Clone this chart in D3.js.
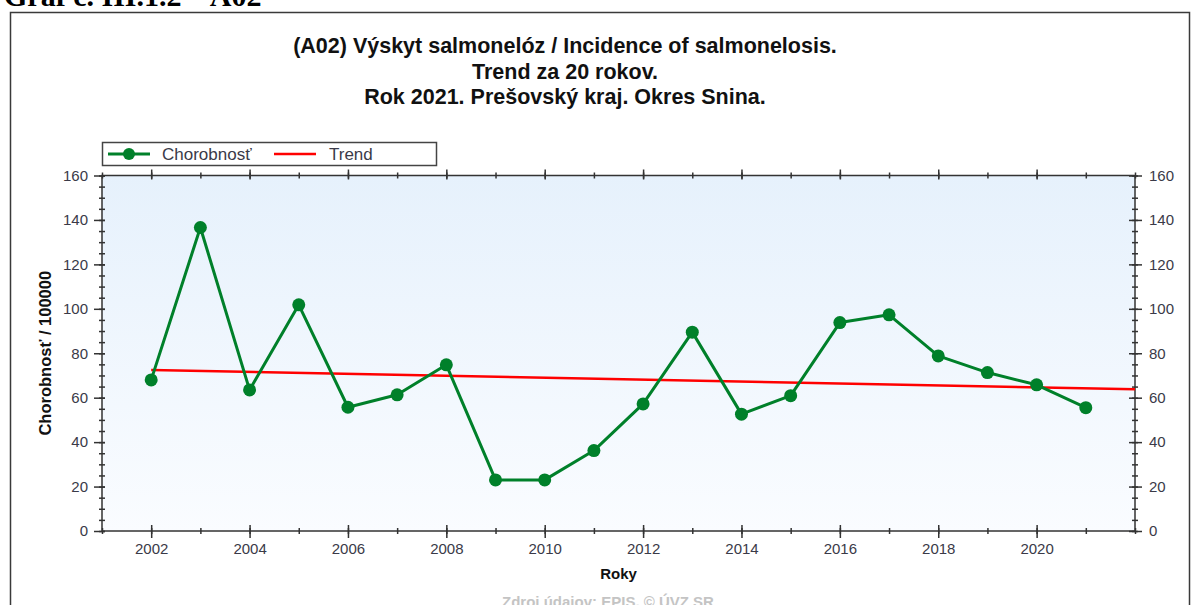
<!DOCTYPE html>
<html>
<head>
<meta charset="utf-8">
<script src="https://cdn.jsdelivr.net/npm/d3@7"></script>
<style>
  body { margin: 0; background: #fff; }
  svg { display: block; font-family: "Liberation Sans", Arial, sans-serif; }
</style>
</head>
<body>
<svg id="chart" width="1195" height="605"></svg>
<script>
// data
const years = [2002, 2003, 2004, 2005, 2006, 2007, 2008, 2009, 2010, 2011,
               2012, 2013, 2014, 2015, 2016, 2017, 2018, 2019, 2020, 2021];
const incidence = [68.0, 136.6, 63.5, 101.8, 55.7, 61.3, 74.8, 23.0, 23.0, 36.2,
                   57.2, 89.5, 52.6, 60.9, 93.8, 97.3, 78.8, 71.3, 65.8, 55.5];
const trendYears = [2002, 2022];
const trendValues = [72.5, 63.8];
const majorYears = [2002, 2004, 2006, 2008, 2010, 2012, 2014, 2016, 2018, 2020];
const minorYears = d3.range(2001, 2023);
const yMajor = [0, 20, 40, 60, 80, 100, 120, 140, 160];
const yMinor = d3.range(0, 161, 5);
const titleLines = [
  '(A02) Výskyt salmonelóz / Incidence of salmonelosis.',
  'Trend za 20 rokov.',
  'Rok 2021. Prešovský kraj. Okres Snina.'
];

const svg = d3.select('#chart');
const plotLeft = 102, plotRight = 1135, plotTop = 175.5, plotBottom = 531;

const x = d3.scaleLinear().domain([2001, 2022]).range([plotLeft, plotRight]);
const y = d3.scaleLinear().domain([0, 160]).range([plotBottom, plotTop]);

// header line of the page, mostly cut off at the top
svg.append('text')
  .attr('x', 4).attr('y', 6)
  .attr('font-family', '"Liberation Serif", serif')
  .attr('font-weight', 'bold')
  .attr('font-size', 30)
  .attr('fill', '#000')
  .text('Graf č. III.1.2 – A02');

// outer frame
svg.append('rect')
  .attr('x', 10.5).attr('y', 12.5)
  .attr('width', 1179).attr('height', 620)
  .attr('fill', '#fff')
  .attr('stroke', '#3a3a3a')
  .attr('stroke-width', 1.5);

// title
svg.append('g').selectAll('text')
  .data(titleLines)
  .join('text')
  .attr('x', 565)
  .attr('y', (d, i) => 53 + i * 25.5)
  .attr('text-anchor', 'middle')
  .attr('font-size', 21.5)
  .attr('font-weight', 'bold')
  .attr('fill', '#111')
  .text(d => d);

// plot background gradient
const grad = svg.append('defs').append('linearGradient')
  .attr('id', 'bg').attr('x1', 0).attr('y1', 0).attr('x2', 0).attr('y2', 1);
grad.append('stop').attr('offset', '0%').attr('stop-color', '#e6f1fc');
grad.append('stop').attr('offset', '100%').attr('stop-color', '#fafcff');

svg.append('rect')
  .attr('x', plotLeft).attr('y', plotTop)
  .attr('width', plotRight - plotLeft).attr('height', plotBottom - plotTop)
  .attr('fill', 'url(#bg)');

const axisColor = '#333';
const labelColor = '#3a3a48';

function styleAxis(g) {
  g.select('.domain').remove();
  g.selectAll('line').attr('stroke', axisColor).attr('stroke-width', 1.5);
  g.selectAll('text').attr('fill', labelColor).attr('font-size', 15)
    .attr('font-family', '"Liberation Sans", Arial, sans-serif');
}

// bottom axis
const xMinorG = svg.append('g').attr('transform', `translate(0,${plotBottom})`)
  .call(d3.axisBottom(x).tickValues(minorYears).tickFormat('').tickSize(0));
xMinorG.selectAll('.tick line').attr('y1', -3).attr('y2', 3);
styleAxis(xMinorG);

const xMajorG = svg.append('g').attr('transform', `translate(0,${plotBottom})`)
  .call(d3.axisBottom(x).tickValues(majorYears).tickFormat(d3.format('d')).tickSize(0).tickPadding(12));
xMajorG.selectAll('.tick line').attr('y1', -6).attr('y2', 7);
styleAxis(xMajorG);

// top axis (ticks only)
const xTopMinor = svg.append('g').attr('transform', `translate(0,${plotTop})`)
  .call(d3.axisTop(x).tickValues(minorYears).tickFormat('').tickSize(0));
xTopMinor.selectAll('.tick line').attr('y1', -3).attr('y2', 3);
styleAxis(xTopMinor);
const xTopMajor = svg.append('g').attr('transform', `translate(0,${plotTop})`)
  .call(d3.axisTop(x).tickValues(majorYears).tickFormat('').tickSize(0));
xTopMajor.selectAll('.tick line').attr('y1', -6).attr('y2', 4);
styleAxis(xTopMajor);

// left axis
const yLeftMinor = svg.append('g').attr('transform', `translate(${plotLeft},0)`)
  .call(d3.axisLeft(y).tickValues(yMinor).tickFormat('').tickSize(0));
yLeftMinor.selectAll('.tick line').attr('x1', -3).attr('x2', 3);
styleAxis(yLeftMinor);
const yLeftMajor = svg.append('g').attr('transform', `translate(${plotLeft},0)`)
  .call(d3.axisLeft(y).tickValues(yMajor).tickSize(0).tickPadding(14));
yLeftMajor.selectAll('.tick line').attr('x1', -8).attr('x2', 3);
styleAxis(yLeftMajor);

// right axis
const yRightMinor = svg.append('g').attr('transform', `translate(${plotRight},0)`)
  .call(d3.axisRight(y).tickValues(yMinor).tickFormat('').tickSize(0));
yRightMinor.selectAll('.tick line').attr('x1', -3).attr('x2', 3);
styleAxis(yRightMinor);
const yRightMajor = svg.append('g').attr('transform', `translate(${plotRight},0)`)
  .call(d3.axisRight(y).tickValues(yMajor).tickSize(0).tickPadding(14));
yRightMajor.selectAll('.tick line').attr('x1', -6).attr('x2', 7);
styleAxis(yRightMajor);

// frame lines of the plot
svg.append('rect')
  .attr('x', plotLeft).attr('y', plotTop)
  .attr('width', plotRight - plotLeft).attr('height', plotBottom - plotTop)
  .attr('fill', 'none')
  .attr('stroke', axisColor)
  .attr('stroke-width', 1.5);

// axis titles
svg.append('text')
  .attr('transform', `translate(51,${(plotTop + plotBottom) / 2}) rotate(-90)`)
  .attr('text-anchor', 'middle')
  .attr('font-size', 16.5)
  .attr('font-weight', 'bold')
  .attr('fill', '#111')
  .text('Chorobnosť / 100000');

svg.append('text')
  .attr('x', (plotLeft + plotRight) / 2)
  .attr('y', 579)
  .attr('text-anchor', 'middle')
  .attr('font-size', 15)
  .attr('font-weight', 'bold')
  .attr('fill', '#111')
  .text('Roky');

// source note
svg.append('text')
  .attr('x', 608)
  .attr('y', 607)
  .attr('text-anchor', 'middle')
  .attr('font-size', 15)
  .attr('font-weight', 'bold')
  .attr('fill', '#c4c4c4')
  .text('Zdroj údajov: EPIS, © ÚVZ SR');

// trend line
const trendData = trendYears.map((yr, i) => ({ year: yr, value: trendValues[i] }));
svg.append('path')
  .datum(trendData)
  .attr('fill', 'none')
  .attr('stroke', '#ff0000')
  .attr('stroke-width', 2.5)
  .attr('d', d3.line().x(d => x(d.year)).y(d => y(d.value)));

// incidence series
const green = '#00802a';
const series = years.map((yr, i) => ({ year: yr, value: incidence[i] }));
svg.append('path')
  .datum(series)
  .attr('fill', 'none')
  .attr('stroke', green)
  .attr('stroke-width', 3)
  .attr('stroke-linejoin', 'round')
  .attr('d', d3.line().x(d => x(d.year)).y(d => y(d.value)));

svg.append('g').selectAll('circle')
  .data(series)
  .join('circle')
  .attr('cx', d => x(d.year))
  .attr('cy', d => y(d.value))
  .attr('r', 6.5)
  .attr('fill', green);

// legend
const legend = svg.append('g');
legend.append('rect')
  .attr('x', 102.5).attr('y', 142.5)
  .attr('width', 334).attr('height', 23)
  .attr('fill', '#fff')
  .attr('stroke', '#444')
  .attr('stroke-width', 1.5);
legend.append('line')
  .attr('x1', 108).attr('x2', 150).attr('y1', 154).attr('y2', 154)
  .attr('stroke', green).attr('stroke-width', 3);
legend.append('circle')
  .attr('cx', 129).attr('cy', 154).attr('r', 6)
  .attr('fill', green);
legend.append('text')
  .attr('x', 162).attr('y', 160)
  .attr('font-size', 17)
  .attr('fill', labelColor)
  .text('Chorobnosť');
legend.append('line')
  .attr('x1', 274).attr('x2', 316).attr('y1', 154).attr('y2', 154)
  .attr('stroke', '#ff0000').attr('stroke-width', 2.5);
legend.append('text')
  .attr('x', 329).attr('y', 160)
  .attr('font-size', 17)
  .attr('fill', labelColor)
  .text('Trend');
</script>
</body>
</html>
